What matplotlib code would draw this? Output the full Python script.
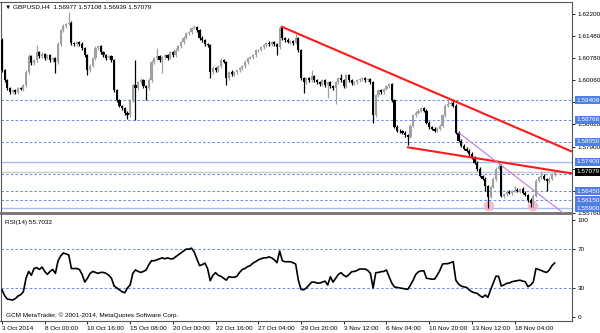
import matplotlib
matplotlib.use("Agg")
import matplotlib.pyplot as plt
from matplotlib.transforms import blended_transform_factory
from matplotlib.patches import Rectangle

# GBPUSD H4 closes, 3 Oct - 20 Nov 2014
closes = [
    1.6037, 1.6005, 1.5979, 1.5966, 1.5972, 1.5966, 1.5979, 1.5976, 1.5989, 1.6031, 1.6083, 1.6060, 1.6070, 1.6096, 1.6083, 1.6090,
    1.6077, 1.6086, 1.6070, 1.6077, 1.6064, 1.6122, 1.6168, 1.6181, 1.6187, 1.6191, 1.6126, 1.6122, 1.6129, 1.6122, 1.6109, 1.6086,
    1.6037, 1.6051, 1.6077, 1.6109, 1.6116, 1.6096, 1.6086, 1.6077, 1.6083, 1.6070, 1.5972, 1.5940, 1.5923, 1.5914, 1.5900, 1.5891,
    1.5940, 1.5989, 1.5979, 1.5998, 1.6005, 1.5985, 1.5979, 1.6005, 1.6064, 1.6077, 1.6083, 1.6070, 1.6080, 1.6086, 1.6077, 1.6096,
    1.6086, 1.6103, 1.6116, 1.6129, 1.6142, 1.6158, 1.6161, 1.6174, 1.6178, 1.6168, 1.6142, 1.6135, 1.6122, 1.6119, 1.6031, 1.6044,
    1.6037, 1.6051, 1.6070, 1.6064, 1.6011, 1.6031, 1.6024, 1.6031, 1.6037, 1.6044, 1.6051, 1.6064, 1.6077, 1.6080, 1.6086, 1.6103,
    1.6103, 1.6112, 1.6119, 1.6126, 1.6122, 1.6129, 1.6122, 1.6112, 1.6174, 1.6142, 1.6135, 1.6129, 1.6132, 1.6126, 1.6142, 1.6103,
    1.6011, 1.5998, 1.6011, 1.6005, 1.6018, 1.6005, 1.5998, 1.5992, 1.6005, 1.5989, 1.5998, 1.5985, 1.5979, 1.5998, 1.6011, 1.6005,
    1.5985, 1.6021, 1.6005, 1.5995, 1.5998, 1.6005, 1.6008, 1.6011, 1.6005, 1.6008, 1.5998, 1.5891, 1.5956, 1.5972, 1.5966, 1.5976,
    1.5985, 1.5992, 1.5940, 1.5855, 1.5842, 1.5839, 1.5835, 1.5826, 1.5822, 1.5858, 1.5891, 1.5900, 1.5907, 1.5914, 1.5907, 1.5868,
    1.5852, 1.5848, 1.5842, 1.5848, 1.5858, 1.5891, 1.5923, 1.5927, 1.5933, 1.5923, 1.5835, 1.5809, 1.5793, 1.5783, 1.5777, 1.5767,
    1.5754, 1.5737, 1.5718, 1.5695, 1.5685, 1.5662, 1.5627, 1.5659, 1.5685, 1.5718, 1.5728, 1.5630, 1.5636, 1.5643, 1.5640, 1.5646,
    1.5649, 1.5646, 1.5653, 1.5640, 1.5633, 1.5617, 1.5607, 1.5630, 1.5679, 1.5692, 1.5695, 1.5685, 1.5679, 1.5685, 1.56977, 1.57079,
]
first_open = 1.6135

# wick lengths in pips above / below the body
upper_wick = [
    6, 4, 3, 5, 4, 6, 3, 5, 4, 6, 8, 4, 5, 23, 5, 6,
    4, 6, 3, 5, 4, 6, 5, 8, 4, 36, 6, 4, 5, 3, 6, 4,
    5, 6, 4, 8, 5, 4, 3, 6, 5, 4, 5, 4, 6, 3, 4, 5,
    6, 5, 82, 4, 6, 5, 4, 8, 6, 5, 26, 4, 5, 6, 4, 5,
    4, 6, 5, 4, 6, 5, 4, 5, 7, 4, 5, 6, 3, 5, 4, 6,
    5, 4, 6, 5, 4, 5, 6, 4, 3, 5, 4, 6, 5, 4, 6, 5,
    4, 6, 5, 4, 6, 5, 4, 5, 7, 5, 4, 6, 5, 4, 13, 5,
    4, 5, 6, 4, 20, 5, 4, 6, 5, 4, 6, 5, 4, 5, 6, 16,
    5, 6, 4, 5, 6, 4, 5, 6, 4, 5, 6, 4, 5, 6, 4, 5,
    6, 5, 4, 5, 4, 6, 5, 4, 5, 6, 5, 4, 6, 5, 4, 5,
    4, 6, 5, 4, 6, 5, 4, 13, 5, 13, 4, 5, 4, 6, 5, 4,
    5, 4, 6, 5, 4, 5, 4, 6, 5, 6, 16, 5, 4, 6, 5, 4,
    13, 5, 4, 6, 5, 4, 5, 6, 5, 4, 16, 5, 4, 6, 5, 3,
]
lower_wick = [
    5, 6, 4, 5, 6, 4, 5, 4, 6, 5, 4, 6, 5, 4, 6, 5,
    6, 4, 5, 6, 36, 5, 4, 6, 5, 4, 6, 5, 4, 6, 5, 4,
    16, 5, 4, 6, 5, 4, 6, 5, 4, 6, 5, 6, 4, 5, 6, 10,
    5, 4, 104, 5, 6, 4, 39, 5, 4, 6, 5, 4, 42, 5, 6, 4,
    5, 6, 4, 5, 6, 4, 5, 6, 4, 5, 6, 4, 5, 6, 20, 5,
    4, 6, 5, 4, 20, 5, 6, 4, 5, 6, 4, 5, 6, 4, 5, 6,
    5, 4, 6, 5, 4, 6, 5, 26, 4, 6, 5, 4, 6, 5, 4, 6,
    5, 33, 4, 6, 5, 4, 6, 5, 4, 6, 42, 5, 4, 52, 6, 5,
    4, 6, 5, 4, 6, 5, 4, 6, 5, 4, 6, 23, 5, 4, 6, 5,
    4, 6, 5, 4, 6, 5, 4, 6, 26, 5, 4, 6, 5, 4, 6, 5,
    6, 5, 4, 6, 5, 4, 6, 5, 4, 6, 5, 4, 6, 5, 4, 6,
    5, 4, 6, 5, 4, 16, 36, 5, 4, 6, 5, 4, 6, 5, 4, 6,
    5, 4, 6, 5, 4, 6, 13, 16, 5, 4, 6, 5, 33, 6, 5, 4,
]

rsi = [
    28, 22, 18.5, 18, 17.5, 19, 21.6, 23, 26, 40, 47, 43, 50, 51, 49, 51.5,
    47, 44, 47, 49, 45, 58, 63, 66, 65, 64, 50, 50, 50, 49, 44, 36,
    40, 45, 47, 46, 45, 46, 46, 45, 43, 40, 32, 30, 28, 26, 25, 30,
    33, 45, 48.5, 47, 46, 47, 48.5, 54, 58, 58, 59, 60, 61, 60, 61, 60,
    60, 62, 64, 66, 68, 70, 70, 71, 67, 60, 53, 54, 55.6, 50, 37.5, 43,
    45.7, 43, 42, 40, 38, 41.6, 41, 41, 42, 46, 49, 50, 52, 53, 55.6, 57,
    59, 60, 61, 61, 62, 61, 59, 56, 68, 58, 57, 57, 57, 56, 54.6, 38,
    28.5, 28, 30, 33, 36, 36, 35, 35, 36, 37, 33, 41.5, 36, 40, 44, 45.7,
    43, 41.5, 44, 46.7, 47, 48, 49.5, 49.5, 49.5, 48, 45, 30, 45.7, 46, 46.7, 47,
    48.5, 41.5, 35, 31, 30.5, 30, 29.5, 29, 28.5, 33, 38, 44, 46.7, 47.5, 47.7, 40,
    39.5, 39, 39, 43, 48, 54.6, 55, 55, 56, 57, 38, 34, 32, 31, 30.6, 28,
    26, 25, 24.4, 22, 20.3, 22.7, 20.3, 28, 35, 42, 42, 32, 33, 34.7, 35, 36.4,
    37, 37.5, 38, 37, 36.4, 31.3, 33, 36, 50, 49, 48, 46.7, 46, 48.5, 53, 55.7,
]

date_labels = ["3 Oct 2014", "8 Oct 00:00", "10 Oct 16:00", "15 Oct 08:00", "20 Oct 00:00",
               "22 Oct 16:00", "27 Oct 04:00", "29 Oct 20:00", "3 Nov 12:00", "6 Nov 04:00",
               "10 Nov 20:00", "13 Nov 12:00", "18 Nov 04:00"]
bars_per_label = 16

price_ticks = [1.62200, 1.61480, 1.60780, 1.60060, 1.59340, 1.58620, 1.57900, 1.57180, 1.56460, 1.55760]
# tick labels that sit fully under a level box are not drawn
hidden_tick_labels = [1.59340, 1.57180]
dotted_levels = [1.59409, 1.58766, 1.58050, 1.57000, 1.56450, 1.56150]
solid_levels = [1.57400, 1.55900]
boxed_levels = [1.59409, 1.58766, 1.58050, 1.57400, 1.56450, 1.56150, 1.55900]
bid = 1.57079

# trend lines (bar index, price)
resistance = [(104.5, 1.6180), (169.7, 1.5937)]
support = [(151.7, 1.5788), (185.8, 1.5741)]
channel = [(170.9, 1.5836), (210.9, 1.5570)]
double_bottom = [(182.4, 1.5597), (198.9, 1.5597)]

FONT = ['Liberation Sans', 'DejaVu Sans']
FS = 4.6
BLUE_DOT = '#6e92e6'
BLUE_SOLID = '#a4bdf0'
BOX_BLUE = '#4f7fe0'
BULL = '#a0a0a0'
EDGE = '#555555'

n = len(closes)
opens = [first_open] + closes[:-1]
highs = [max(o, c) + u / 10000 for o, c, u in zip(opens, closes, upper_wick)]
lows = [min(o, c) - d / 10000 for o, c, d in zip(opens, closes, lower_wick)]
idx = list(range(n))

W, H = 600, 333
fig = plt.figure(figsize=(6, 3.33), dpi=100)
ax1 = fig.add_axes([0.5 / W, 1 - 213 / H, 571.5 / W, 211 / H])
ax2 = fig.add_axes([0.5 / W, 1 - 321 / H, 571.5 / W, 107 / H])

xlim = (-0.56, 213.5)

# ---- price panel
ax1.set_xlim(*xlim)
ax1.set_ylim(1.55744, 1.62592)
for lv in dotted_levels:
    ax1.axhline(lv, color=BLUE_DOT, lw=0.75, dashes=(2.5, 2.0), zorder=1)
for lv in solid_levels:
    ax1.axhline(lv, color=BLUE_SOLID, lw=1.0, zorder=1)
ax1.axhline(bid, color='#c8c8c8', lw=1.0, zorder=1)

ax1.scatter([p[0] for p in double_bottom], [p[1] for p in double_bottom],
            s=60, color='#f7b3c6', alpha=0.85, edgecolors='none', zorder=1.5)

colors = [BULL if c >= o else 'black' for o, c in zip(opens, closes)]
ax1.vlines(idx, lows, highs, colors=colors, lw=0.9, zorder=2)
bottoms = [min(o, c) for o, c in zip(opens, closes)]
heights = [max(abs(c - o), 0.00006) for o, c in zip(opens, closes)]
ax1.bar(idx, heights, bottom=bottoms, width=0.8, color=colors, linewidth=0, zorder=3)


def extend(line, x_end):
    (x0, y0), (x1, y1) = line
    k = (y1 - y0) / (x1 - x0)
    return [x0, x_end], [y0, y0 + k * (x_end - x0)]


for line, col, lw in [(resistance, '#ff1a1a', 1.5), (support, '#ff1a1a', 1.5), (channel, '#c27ad6', 0.8)]:
    xs, ys = extend(line, xlim[1])
    ax1.plot(xs, ys, color=col, lw=lw, zorder=4, solid_capstyle='butt')

ax1.set_xticks([])
ax1.yaxis.tick_right()
ax1.set_yticks(price_ticks)
ax1.set_yticklabels(['' if p in hidden_tick_labels else '%.5f' % p for p in price_ticks],
                    fontsize=FS, family=FONT)
ax1.tick_params(axis='y', length=2.5, width=0.6, pad=1.5, colors='black')

tr = blended_transform_factory(ax1.transAxes, ax1.transData)
box_h = 0.0026
for lv in boxed_levels + [bid]:
    fc = 'black' if lv == bid else BOX_BLUE
    ax1.add_patch(Rectangle((1.0055, lv - box_h / 2), 0.0437, box_h, transform=tr,
                            facecolor=fc, edgecolor='none', clip_on=False, zorder=6))
    ax1.text(1.0085, lv, '%.5f' % lv, transform=tr, color='white', fontsize=FS,
             family=FONT, va='center', ha='left', clip_on=False, zorder=7)

ax1.text(0.008, 0.978, '\u25bc GBPUSD,H4  1.56977 1.57108 1.56939 1.57079',
         transform=ax1.transAxes, fontsize=FS, family=FONT, va='center', ha='left')

# ---- RSI panel
ax2.set_xlim(*xlim)
ax2.set_ylim(-4.1, 106.2)
for lv in (70, 30):
    ax2.axhline(lv, color=BLUE_DOT, lw=0.75, dashes=(2.5, 2.0), zorder=1)
ax2.plot(idx, rsi, color='black', lw=1.2, zorder=3)
ax2.yaxis.tick_right()
ax2.set_yticks([100, 70, 30, 0])
ax2.set_yticklabels(['100', '70', '30', '0'], fontsize=FS, family=FONT)
ax2.tick_params(axis='y', length=2.5, width=0.6, pad=1.5)
ticks = [i * bars_per_label for i in range(len(date_labels))]
ax2.set_xticks(ticks)
ax2.set_xticklabels(date_labels, fontsize=FS, family=FONT)
for lab in ax2.get_xticklabels():
    lab.set_horizontalalignment('left')
ax2.tick_params(axis='x', length=2.5, width=0.6, pad=1.0)
ax2.text(0.007, 0.925, 'RSI(14) 55.7032', transform=ax2.transAxes, fontsize=FS,
         family=FONT, va='center', ha='left')
ax2.text(0.009, 0.05, 'GCM MetaTrader, \u00a9 2001-2014, MetaQuotes Software Corp.',
         transform=ax2.transAxes, fontsize=FS, family=FONT, va='center', ha='left')

for ax in (ax1, ax2):
    for sp in ax.spines.values():
        sp.set_color(EDGE)
        sp.set_linewidth(0.8)
# thick grey separator between the two panels
ax1.spines['bottom'].set_linewidth(1.3)
ax1.spines['bottom'].set_color('#727272')
ax2.spines['top'].set_linewidth(1.3)
ax2.spines['top'].set_color('#727272')

fig.savefig('out.png', dpi=100, facecolor='white')
